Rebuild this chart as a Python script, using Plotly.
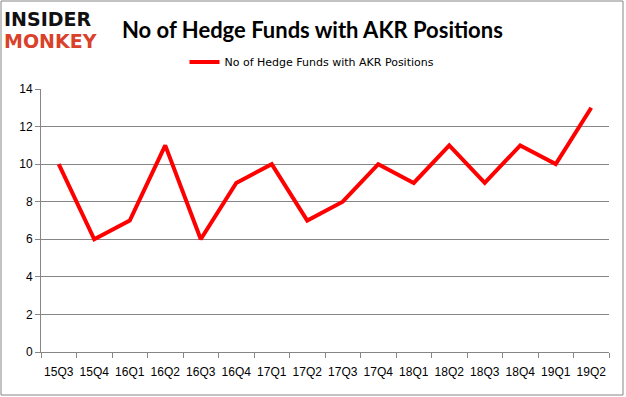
import plotly.graph_objects as go

quarters = ["15Q3", "15Q4", "16Q1", "16Q2", "16Q3", "16Q4", "17Q1", "17Q2",
            "17Q3", "17Q4", "18Q1", "18Q2", "18Q3", "18Q4", "19Q1", "19Q2"]
hedge_funds = [10, 6, 7, 11, 6, 9, 10, 7, 8, 10, 9, 11, 9, 11, 10, 13]
series_name = "No of Hedge Funds with AKR Positions"
y_ticks = [0, 2, 4, 6, 8, 10, 12, 14]

W, H = 626, 397
L, R, T, B = 41, 17, 89, 45
pw, ph = W - L - R, H - T - B

def px(x):
    return (x - L) / pw

def py(y):
    return (H - B - y) / ph

fig = go.Figure()
fig.add_trace(go.Scatter(
    x=quarters, y=hedge_funds, mode="lines", name=series_name,
    line=dict(color="#ff0000", width=4), showlegend=True,
))

fig.update_layout(
    width=W, height=H,
    margin=dict(l=L, r=R, t=T, b=B, autoexpand=False),
    paper_bgcolor="white", plot_bgcolor="white",
    font=dict(family="DejaVu Sans", size=11, color="#000000"),
    showlegend=True,
    legend=dict(orientation="h", x=px(312), xanchor="center", y=py(62), yanchor="middle",
                font=dict(family="DejaVu Sans", size=11, color="#000000"),
                bgcolor="rgba(0,0,0,0)", itemwidth=30),
    xaxis=dict(type="category", range=[-0.5, len(quarters) - 0.5],
               showgrid=False, showline=True, linecolor="#868686", linewidth=1,
               ticks="outside", tickson="boundaries", ticklen=5, tickcolor="#868686",
               tickangle=0, automargin=False, ticklabelstandoff=9,
               tickfont=dict(family="Liberation Sans", size=12, color="#000000"),
               fixedrange=True),
    yaxis=dict(range=[0, 14], tickvals=y_ticks, showgrid=True, gridcolor="#868686",
               gridwidth=1, showline=True, linecolor="#868686", linewidth=1,
               ticks="outside", ticklen=5, tickcolor="#868686", zeroline=False,
               automargin=False,
               tickfont=dict(family="Liberation Sans", size=12, color="#000000"),
               fixedrange=True),
    annotations=[
        dict(text="<b>No of Hedge Funds with AKR Positions</b>", xref="paper", yref="paper",
             x=px(312), y=py(30), xanchor="center", yanchor="middle", showarrow=False,
             font=dict(family="Lato", size=22, color="#000000")),
        dict(text="<b>INSIDER</b>", xref="paper", yref="paper",
             x=px(2), y=py(19), xanchor="left", yanchor="middle", showarrow=False,
             font=dict(family="DejaVu Sans", size=19, color="#111111")),
        dict(text="<b>MONKEY</b>", xref="paper", yref="paper",
             x=px(2), y=py(41), xanchor="left", yanchor="middle", showarrow=False,
             font=dict(family="DejaVu Sans", size=19, color="#d9412b")),
    ],
    shapes=[
        dict(type="rect", xref="paper", yref="paper",
             x0=px(1), x1=px(623), y0=py(395), y1=py(1),
             line=dict(color="#868686", width=1), fillcolor="rgba(0,0,0,0)", layer="below"),
    ],
)

fig.write_html("out.html", config={"displayModeBar": False, "responsive": False},
               post_script="document.body.style.margin='0';")
